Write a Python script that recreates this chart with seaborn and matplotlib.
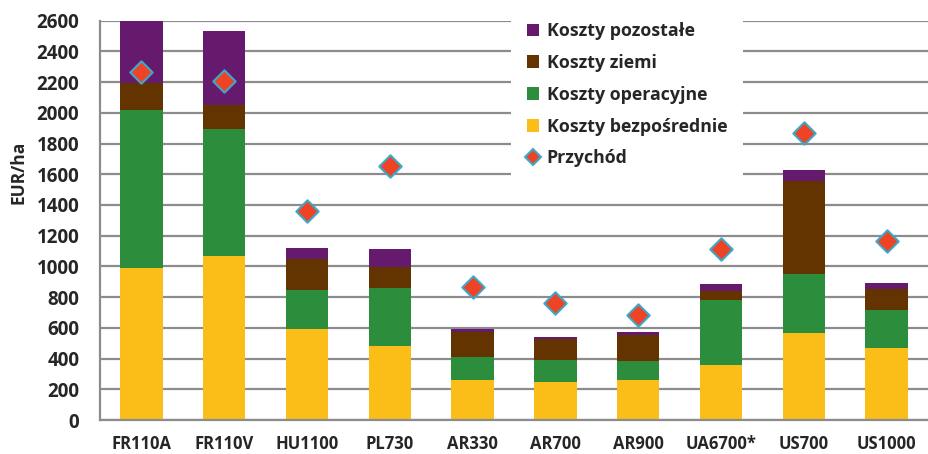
import numpy as np
import pandas as pd
import seaborn as sns
import matplotlib.pyplot as plt
from matplotlib.patches import Patch
from matplotlib.lines import Line2D

categories = ["FR110A", "FR110V", "HU1100", "PL730", "AR330",
              "AR700", "AR900", "UA6700*", "US700", "US1000"]
direct = [990, 1065, 595, 480, 262, 250, 260, 355, 568, 470]       # Koszty bezpośrednie
operational = [1030, 827, 251, 379, 148, 143, 126, 426, 382, 248]  # Koszty operacyjne
land = [175, 157, 204, 139, 161, 134, 167, 59, 606, 135]           # Koszty ziemi
other = [405, 486, 68, 117, 23, 13, 18, 43, 72, 41]                # Koszty pozostałe
revenue = [2265, 2210, 1363, 1656, 866, 760, 684, 1115, 1870, 1163]  # Przychód

labels = ["Koszty pozostałe", "Koszty ziemi", "Koszty operacyjne", "Koszty bezpośrednie"]
colors = ["#661A6E", "#633300", "#2C8D3C", "#FBBE18"]
red, cyan = "#EE4324", "#3CA9C8"
grid_col = "#8C8C8C"
txt = "#262626"

sns.set_style("white")
plt.rcParams["font.family"] = ["Open Sans", "DejaVu Sans"]
plt.rcParams["font.weight"] = "bold"

df = pd.DataFrame({"farm": categories, "direct": direct, "operational": operational,
                   "land": land, "other": other})
# cumulative tops, drawn from the top layer down so lower layers cover upper ones
df["c_direct"] = df["direct"]
df["c_oper"] = df["c_direct"] + df["operational"]
df["c_land"] = df["c_oper"] + df["land"]
df["c_other"] = df["c_land"] + df["other"]

fig, ax = plt.subplots(figsize=(9.29, 4.54), dpi=100)
fig.subplots_adjust(left=100 / 929, right=928 / 929, bottom=1 - 420 / 454, top=1 - 20.7 / 454)

for col, c in zip(["c_other", "c_land", "c_oper", "c_direct"], colors):
    sns.barplot(data=df, x="farm", y=col, color=c, saturation=1, width=0.51,
                linewidth=0, errorbar=None, ax=ax)

sns.scatterplot(x=np.arange(len(categories)), y=revenue, marker="D", s=130,
                color=red, edgecolor=cyan, linewidth=1.5, zorder=5, legend=False, ax=ax)

ax.set_ylim(0, 2600)
ax.set_xlim(-0.5, len(categories) - 0.5)
ax.set_yticks(range(0, 2601, 200))
ax.set_xticks(range(len(categories)))
ax.set_xticklabels(categories)
ax.set_xticks(np.arange(-0.5, len(categories), 1), minor=True)
ax.yaxis.grid(True, color=grid_col, linewidth=1.6)
ax.set_axisbelow(True)
for s in ["top", "right"]:
    ax.spines[s].set_visible(False)
for s in ["left", "bottom"]:
    ax.spines[s].set_color(grid_col)
    ax.spines[s].set_linewidth(1.6)

ax.tick_params(axis="y", length=5, width=1.6, color=grid_col, pad=10,
               labelsize=13.5, labelcolor=txt)
ax.tick_params(axis="x", which="major", length=0, pad=11, labelsize=12, labelcolor=txt)
ax.tick_params(axis="x", which="minor", length=5, width=1.6, color=grid_col)
for lab in ax.get_xticklabels() + ax.get_yticklabels():
    lab.set_fontweight("bold")

ax.set_xlabel("")
ax.set_ylabel("EUR/ha", fontsize=12.5, fontweight="bold", color=txt)
ax.yaxis.set_label_coords(-0.088, 0.62)

handles = [Patch(facecolor=c, edgecolor="none") for c in colors]
handles.append(Line2D([], [], marker="D", linestyle="none", markersize=8,
                      markerfacecolor=red, markeredgecolor=cyan, markeredgewidth=1.5))
leg = ax.legend(handles, labels + ["Przychód"], loc="upper left",
                bbox_to_anchor=(511 / 929, 1 - 6 / 454), bbox_transform=fig.transFigure,
                borderaxespad=0, borderpad=0.9, frameon=True, framealpha=1,
                facecolor="white", edgecolor="none", fancybox=False,
                handlelength=0.7, handleheight=0.7, handletextpad=0.4,
                labelspacing=0.78, prop={"weight": "bold", "size": 12.8},
                labelcolor=txt)

plt.savefig("out.png", dpi=100)
